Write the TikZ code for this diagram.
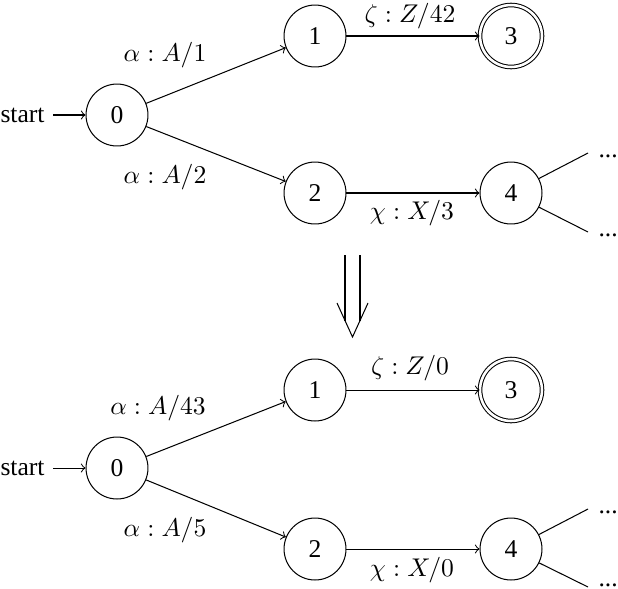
\documentclass[tikz,border=0pt]{standalone}
\usepackage[no-math]{fontspec}
\setmainfont{Liberation Serif}
\begin{document}
\begin{tikzpicture}[x=0.390625pt,y=-0.390625pt,
  state/.style={circle,draw,minimum size=24.2pt,inner sep=0pt},
  accept/.style={state,double,double distance=1pt},
  lbl/.style={inner sep=0pt},
  startlbl/.style={inner xsep=0pt,anchor=west},
  edge/.style={->}]
\useasboundingbox (0,0) rectangle (618,588);
% ---------- top automaton ----------
\node[state] (a0) at (117,115) {0};
\node[state] (a1) at (315,36) {1};
\node[state] (a2) at (315,193) {2};
\node[accept] (a3) at (511,36) {3};
\node[state] (a4) at (511,193) {4};
\node[startlbl] (as) at (0,115) {start};
\draw[edge,shorten <=3.2pt] (as) -- (a0);
\draw[edge] (a0) -- (a1);
\draw[edge] (a0) -- (a2);
\draw[edge] (a1) -- (a3);
\draw[edge] (a2) -- (a4);
\coordinate (ae1) at (588,153);
\coordinate (ae2) at (588,232);
\draw (a4) -- (ae1);
\draw (a4) -- (ae2);
\node[lbl,anchor=base west] (ad1) at (598,157) {...};
\node[lbl,anchor=base west] (ad2) at (598,236) {...};
\node[lbl] (al01) at (165,55) {$\alpha : A/1$};
\node[lbl] (al02) at (165,177) {$\alpha : A/2$};
\node[lbl] (al13) at (410,16) {$\zeta : Z/42$};
\node[lbl] (al24) at (412,213) {$\chi : X/3$};
% ---------- double arrow ----------
\draw (345,255) -- (345,321);
\draw (360,255) -- (360,321);
\draw (337,303) -- (352.5,337) -- (368,303);
% ---------- bottom automaton ----------
\node[state] (b0) at (117,468) {0};
\node[state] (b1) at (315,390) {1};
\node[state] (b2) at (315,549) {2};
\node[accept] (b3) at (511,390) {3};
\node[state] (b4) at (511,549) {4};
\node[startlbl] (bs) at (0,468) {start};
\draw[edge,shorten <=3.2pt] (bs) -- (b0);
\draw[edge] (b0) -- (b1);
\draw[edge] (b0) -- (b2);
\draw[edge] (b1) -- (b3);
\draw[edge] (b2) -- (b4);
\coordinate (be1) at (588,509);
\coordinate (be2) at (588,587);
\draw (b4) -- (be1);
\draw (b4) -- (be2);
\node[lbl,anchor=base west] (bd1) at (598,513) {...};
\node[lbl,anchor=base west] (bd2) at (598,586) {...};
\node[lbl] (bl01) at (158,408) {$\alpha : A/43$};
\node[lbl] (bl02) at (165,530) {$\alpha : A/5$};
\node[lbl] (bl13) at (410,368) {$\zeta : Z/0$};
\node[lbl] (bl24) at (412,570) {$\chi : X/0$};
\end{tikzpicture}
\end{document}
